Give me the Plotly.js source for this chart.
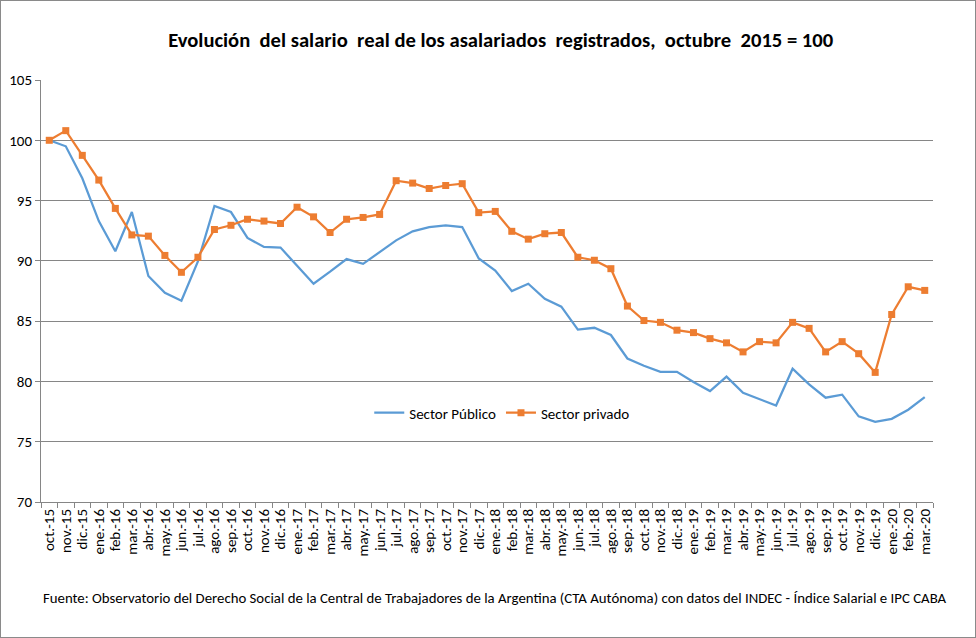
<!DOCTYPE html>
<html>
<head>
<meta charset="utf-8">
<script src="https://cdn.plot.ly/plotly-3.0.1.min.js"></script>
<style>
html,body{margin:0;padding:0;background:#fff;}
#wrap{position:absolute;left:0;top:0;width:974px;height:636px;border:1px solid #8a8a8a;}
#chart{position:absolute;left:-1px;top:-1px;width:976px;height:638px;}
</style>
</head>
<body>
<div id="wrap"><div id="chart"></div></div>
<script>
const months = [
 "oct.-15","nov.-15","dic.-15",
 "ene.-16","feb.-16","mar.-16","abr.-16","may.-16","jun.-16","jul.-16","ago.-16","sep.-16","oct.-16","nov.-16","dic.-16",
 "ene.-17","feb.-17","mar.-17","abr.-17","may.-17","jun.-17","jul.-17","ago.-17","sep.-17","oct.-17","nov.-17","dic.-17",
 "ene.-18","feb.-18","mar.-18","abr.-18","may.-18","jun.-18","jul.-18","ago.-18","sep.-18","oct.-18","nov.-18","dic.-18",
 "ene.-19","feb.-19","mar.-19","abr.-19","may.-19","jun.-19","jul.-19","ago.-19","sep.-19","oct.-19","nov.-19","dic.-19",
 "ene.-20","feb.-20","mar.-20"
];
const sectorPublico = [
 100.0, 99.5, 96.85,
 93.3, 90.8, 94.05, 88.75, 87.35, 86.7, 89.95, 94.55, 94.05, 91.9, 91.15, 91.1,
 89.6, 88.1, 89.1, 90.15, 89.75, 90.75, 91.7, 92.45, 92.8, 92.95, 92.8, 90.2,
 89.2, 87.5, 88.1, 86.85, 86.2, 84.3, 84.45, 83.85, 81.9, 81.3, 80.8, 80.8,
 79.95, 79.2, 80.4, 79.05, 78.5, 78.0, 81.05, 79.75, 78.65, 78.9, 77.1, 76.65,
 76.9, 77.65, 78.7
];
const sectorPrivado = [
 100.0, 100.8, 98.75,
 96.7, 94.35, 92.15, 92.05, 90.45, 89.05, 90.3, 92.6, 92.95, 93.45, 93.3, 93.1,
 94.45, 93.65, 92.35, 93.45, 93.6, 93.85, 96.65, 96.45, 96.0, 96.25, 96.4, 94.0,
 94.1, 92.45, 91.8, 92.25, 92.35, 90.3, 90.05, 89.35, 86.25, 85.05, 84.9, 84.25,
 84.05, 83.55, 83.2, 82.45, 83.3, 83.2, 84.9, 84.4, 82.45, 83.3, 82.3, 80.75,
 85.55, 87.85, 87.55
];
const seriesNames = ["Sector Público", "Sector privado"];
const yTicks = [70, 75, 80, 85, 90, 95, 100, 105];

const FONT = "Carlito, Calibri, Lato, 'Open Sans', sans-serif";

const traces = [
 {
  x: months, y: sectorPublico, name: seriesNames[0], type: "scatter", mode: "lines",
  line: {color: "#5B9BD5", width: 2.25}
 },
 {
  x: months, y: sectorPrivado, name: seriesNames[1], type: "scatter", mode: "lines+markers",
  line: {color: "#ED7D31", width: 2.25},
  marker: {symbol: "square", size: 7, color: "#ED7D31"}
 }
];

const layout = {
  width: 976, height: 638,
  margin: {l: 41, r: 43, t: 80, b: 136},
  paper_bgcolor: "rgba(0,0,0,0)", plot_bgcolor: "#fff",
  font: {family: FONT, size: 15, color: "#000"},
  title: {
    text: "Evolución&nbsp; del salario&nbsp; real de los asalariados&nbsp; registrados,&nbsp; octubre&nbsp; 2015 = 100",
    font: {family: FONT, size: 20.6, color: "#000", weight: "bold"},
    xref: "container", x: 0.513, xanchor: "center",
    yref: "container", y: 0.937, yanchor: "middle"
  },
  xaxis: {
    type: "category", categoryorder: "array", categoryarray: months,
    range: [-0.5, months.length - 0.5], autorange: false,
    tickmode: "array", tickvals: months, ticktext: months,
    tickangle: -90, tickfont: {family: FONT, size: 15, color: "#000"},
    ticks: "outside", tickson: "boundaries", ticklen: 5, tickcolor: "#868686",
    showline: true, linecolor: "#868686", linewidth: 1,
    showgrid: false, zeroline: false, fixedrange: true, automargin: false
  },
  yaxis: {
    range: [70, 105], autorange: false, tickvals: yTicks, ticktext: yTicks.map(String),
    tickfont: {family: FONT, size: 15, color: "#000"},
    ticks: "outside", ticklen: 5, tickcolor: "#868686",
    showline: true, linecolor: "#868686", linewidth: 1,
    showgrid: true, gridcolor: "#868686", gridwidth: 1,
    zeroline: false, fixedrange: true, automargin: false
  },
  showlegend: true,
  legend: {
    orientation: "h", x: 0.368, xanchor: "left", y: 0.211, yanchor: "middle",
    bgcolor: "rgba(0,0,0,0)", font: {family: FONT, size: 15, color: "#000"},
    itemwidth: 30, tracegroupgap: 0
  },
  annotations: [{
    text: "Fuente: Observatorio del Derecho Social de la Central de Trabajadores de la Argentina (CTA Autónoma) con datos del INDEC - Índice Salarial e IPC CABA",
    xref: "paper", yref: "paper", x: 0.0, xanchor: "left", y: -0.2275, yanchor: "middle",
    showarrow: false, font: {family: FONT, size: 14.8, color: "#000"}
  }]
};

Plotly.newPlot("chart", traces, layout, {displayModeBar: false, staticPlot: true});
</script>
</body>
</html>
